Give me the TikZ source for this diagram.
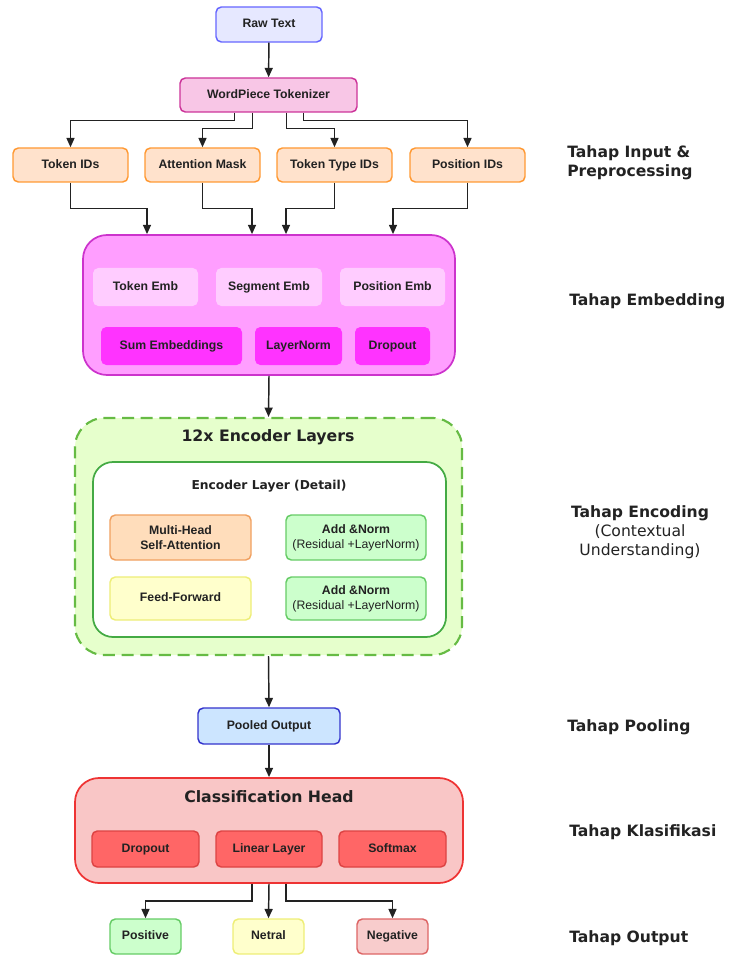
\documentclass[tikz,border=0pt]{standalone}
\usepackage{fontspec}
\setmainfont{Liberation Sans}
\newfontfamily\vfont{DejaVu Sans}
\usetikzlibrary{arrows.meta,calc}
\definecolor{ink}{HTML}{222222}
\definecolor{rawF}{HTML}{E6E8FF}\definecolor{rawD}{HTML}{6666FF}
\definecolor{tokF}{HTML}{F8C6E6}\definecolor{tokD}{HTML}{CC3399}
\definecolor{inpF}{HTML}{FFE2CC}\definecolor{inpD}{HTML}{FF9933}
\definecolor{embF}{HTML}{FF9EFF}\definecolor{embD}{HTML}{CC33CC}
\definecolor{leF}{HTML}{FFCCFF}\definecolor{deF}{HTML}{FF33FF}
\definecolor{encF}{HTML}{E6FFCC}\definecolor{encD}{HTML}{66BB44}
\definecolor{innD}{HTML}{44AA44}
\definecolor{mhF}{HTML}{FFDDBB}\definecolor{mhD}{HTML}{F0A060}
\definecolor{grF}{HTML}{CCFFCC}\definecolor{grD}{HTML}{66CC66}
\definecolor{yeF}{HTML}{FFFFCC}\definecolor{yeD}{HTML}{EEEE77}
\definecolor{poF}{HTML}{CCE5FF}\definecolor{poD}{HTML}{3333CC}
\definecolor{clF}{HTML}{F9C6C6}\definecolor{clD}{HTML}{EE3333}
\definecolor{ciF}{HTML}{FF6666}\definecolor{ciD}{HTML}{DD4444}
\definecolor{ngF}{HTML}{F8CCCC}\definecolor{ngD}{HTML}{DD6666}
\begin{document}
\begin{tikzpicture}[x=0.75pt,y=-0.75pt,
  corners/.style n args={4}{at={({(#1+#3)/2},{(#2+#4)/2})}, minimum width={(#3-#1)*0.75pt}, minimum height={(#4-#2)*0.75pt}},
  base/.style={rounded corners=4pt, line width=1.1pt, inner sep=0pt, align=center, text=ink,
     font=\bfseries\fontsize{9.2}{11}\selectfont},
  sl/.style={text height=6.6pt, text depth=1.9pt},
  box/.style={base, draw, sl},
  box2/.style={base, draw},
  flat/.style={base, sl},
  cont/.style={draw, rounded corners=15pt, line width=1.3pt, inner sep=0pt},
  arr/.style={-{Triangle[length=7pt,width=6pt]}, line width=1.1pt, draw=ink},
  ttl/.style={text=ink, inner sep=0pt, font=\vfont\bfseries\fontsize{11.8}{13}\selectfont},
  stage/.style={text=ink, inner sep=0pt, font=\vfont\bfseries\fontsize{11.7}{14.25}\selectfont, align=left, anchor=west}]
\useasboundingbox (0,0) rectangle (728,955);
% input
\node[box, fill=rawF, draw=rawD, corners={216}{7}{322}{42}] (raw) {Raw Text};
\node[box, fill=tokF, draw=tokD, corners={180}{78}{357}{112}] (tok) {WordPiece Tokenizer};
\tikzset{inp/.style={box, fill=inpF, draw=inpD}}
\node[inp, corners={13}{148}{128}{182}] (tid) {Token IDs};
\node[inp, corners={145}{148}{260}{182}] (am) {Attention Mask};
\node[inp, corners={277}{148}{392}{182}] (tti) {Token Type IDs};
\node[inp, corners={410}{148}{525}{182}] (pid) {Position IDs};
% embedding
\node[cont, rounded corners=18pt, fill=embF, draw=embD, corners={83}{235}{455}{375}] (emb) {};
\tikzset{le/.style={flat, fill=leF}, de/.style={flat, fill=deF}}
\node[le, corners={93}{268}{198}{306}] (te) {Token Emb};
\node[le, corners={216}{268}{322}{306}] (se) {Segment Emb};
\node[le, corners={340}{268}{445}{306}] (pe) {Position Emb};
\node[de, corners={101}{327}{242}{365}] (sum) {Sum Embeddings};
\node[de, corners={255}{327}{342}{365}] (ln) {LayerNorm};
\node[de, corners={355}{327}{430}{365}] (dr) {Dropout};
% encoder
\node[cont, rounded corners=22pt, line width=1.6pt, dash pattern=on 9pt off 5pt, fill=encF, draw=encD, corners={75}{418}{462}{655}] (enc) {};
\node[ttl] (enct) at (268,437) {12x Encoder Layers};
\node[cont, rounded corners=15pt, fill=white, draw=innD, corners={93}{462}{446}{637}] (inner) {};
\node[ttl, font=\vfont\bfseries\fontsize{9.2}{11}\selectfont] (innt) at (269,486) {Encoder Layer (Detail)};
\node[box2, fill=mhF, draw=mhD, corners={110}{515}{251}{560}] (mhsa) {Multi-Head\\Self-Attention};
\node[box2, fill=grF, draw=grD, corners={286}{515}{426}{560}] (an1) {Add \&Norm\\\mdseries(Residual +LayerNorm)};
\node[box, fill=yeF, draw=yeD, corners={110}{577}{251}{620}] (ff) {Feed-Forward};
\node[box2, fill=grF, draw=grD, corners={286}{577}{426}{620}] (an2) {Add \&Norm\\\mdseries(Residual +LayerNorm)};
% pooling
\node[box, fill=poF, draw=poD, corners={198}{708}{340}{744}] (pool) {Pooled Output};
% classification
\node[cont, rounded corners=18pt, fill=clF, draw=clD, corners={75}{778}{463}{883}] (cls) {};
\node[ttl] (clst) at (269,797) {Classification Head};
\tikzset{cl/.style={box, fill=ciF, draw=ciD}}
\node[cl, corners={92}{831}{199}{867}] (cdr) {Dropout};
\node[cl, corners={216}{831}{322}{867}] (lin) {Linear Layer};
\node[cl, corners={339}{831}{446}{867}] (sm) {Softmax};
% outputs
\node[box, fill=grF, draw=grD, corners={110}{919}{181}{954}] (pos) {Positive};
\node[box, fill=yeF, draw=yeD, corners={233}{919}{304}{954}] (net) {Netral};
\node[box, fill=ngF, draw=ngD, corners={357}{919}{428}{954}] (neg) {Negative};
% connectors
\draw[arr] (raw) -- (tok);
\draw[arr] (tok.south) ++(-34,0) -- ++(0,8) -| (tid.north);
\draw[arr] (tok.south) ++(-16,0) -- ++(0,16) -| (am.north);
\draw[arr] (tok.south) ++(18,0) -- ++(0,16) -| (tti.north);
\draw[arr] (tok.south) ++(35,0) -- ++(0,8) -| (pid.north);
\draw[arr] (tid.south) -- ++(0,26) -| ($(emb.north)+(-122,0)$);
\draw[arr] (am.south) -- ++(0,26) -| ($(emb.north)+(-17,0)$);
\draw[arr] (tti.south) -- ++(0,26) -| ($(emb.north)+(17,0)$);
\draw[arr] (pid.south) -- ++(0,26) -| ($(emb.north)+(124,0)$);
\draw[arr] (emb.south) -- (enc.north);
\draw[arr] (enc.south) -- (pool.north);
\draw[arr] (pool.south) -- (cls.north);
\draw[arr] (cls.south) ++(-17,0) -- ++(0,17) -| (pos.north);
\draw[arr] (cls.south) -- (net.north);
\draw[arr] (cls.south) ++(17,0) -- ++(0,17) -| (neg.north);
% stage labels
\node[stage] (s1) at (567,163) {Tahap Input \&\\Preprocessing};
\node[stage] (s2) at (569,301) {Tahap Embedding};
\node[stage, anchor=center, align=center] (s3) at (640,532) {Tahap Encoding\\\mdseries(Contextual\\\mdseries Understanding)};
\node[stage] (s4) at (567,727) {Tahap Pooling};
\node[stage] (s5) at (569,832) {Tahap Klasifikasi};
\node[stage] (s6) at (569,938) {Tahap Output};
\end{tikzpicture}
\end{document}
